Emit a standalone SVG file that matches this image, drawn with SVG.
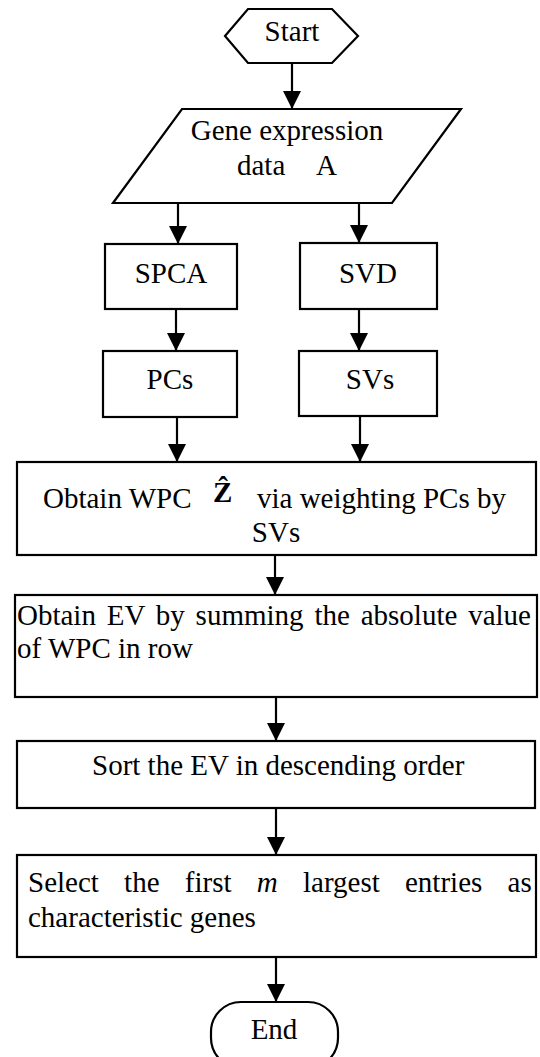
<svg xmlns="http://www.w3.org/2000/svg" width="540" height="1057" viewBox="0 0 540 1057">
<style>
.s{fill:#fff;stroke:#000;stroke-width:2.2}
.t{font-size:29px;fill:#000}
.c{text-anchor:middle}
.e{stroke:#000;stroke-width:2.2;fill:none}
</style>
<defs>
<marker id="ah" markerUnits="userSpaceOnUse" markerWidth="18" markerHeight="18" refX="18" refY="9" orient="auto">
<path d="M0,0 L18,9 L0,18 z" fill="#000"/>
</marker>
</defs>
<rect width="540" height="1057" fill="#fff"/>
<g id="connectors">
<line class="e" x1="292" y1="63" x2="292" y2="109" marker-end="url(#ah)"/>
<line class="e" x1="178" y1="203" x2="178" y2="244" marker-end="url(#ah)"/>
<line class="e" x1="359" y1="203" x2="359" y2="243" marker-end="url(#ah)"/>
<line class="e" x1="176" y1="309" x2="176" y2="351" marker-end="url(#ah)"/>
<line class="e" x1="359" y1="309" x2="359" y2="351" marker-end="url(#ah)"/>
<line class="e" x1="177" y1="417" x2="177" y2="462" marker-end="url(#ah)"/>
<line class="e" x1="360" y1="416" x2="360" y2="462" marker-end="url(#ah)"/>
<line class="e" x1="275" y1="555" x2="275" y2="595" marker-end="url(#ah)"/>
<line class="e" x1="276" y1="697" x2="276" y2="741" marker-end="url(#ah)"/>
<line class="e" x1="276" y1="808" x2="276" y2="855" marker-end="url(#ah)"/>
<line class="e" x1="276" y1="957" x2="276" y2="1002" marker-end="url(#ah)"/>
</g>
<g font-family="Liberation Serif, Tinos, DejaVu Serif, serif">
<g id="start">
<polygon class="s" points="225,36 248,9 332,9 358,36 332,63 248,63"/>
<text class="t c" x="292" y="41">Start</text>
</g>
<g id="data">
<polygon class="s" points="182,109 461,109 392,203 113,203"/>
<text class="t c" x="287" y="140">Gene expression</text>
<text class="t" y="175"><tspan x="237">data</tspan><tspan x="316">A</tspan></text>
</g>
<g id="spca">
<rect class="s" x="105" y="244" width="132" height="65"/>
<text class="t c" x="171" y="283">SPCA</text>
</g>
<g id="svd">
<rect class="s" x="300" y="243" width="137" height="66"/>
<text class="t c" x="368" y="283">SVD</text>
</g>
<g id="pcs">
<rect class="s" x="103" y="351" width="134" height="66"/>
<text class="t c" x="170" y="389">PCs</text>
</g>
<g id="svs">
<rect class="s" x="299" y="351" width="138" height="65"/>
<text class="t c" x="370" y="389">SVs</text>
</g>
<g id="wpc">
<rect class="s" x="17" y="462" width="519" height="93"/>
<text class="t" x="43" y="508">Obtain WPC</text>
<text class="t" x="213" y="502" font-weight="bold" font-size="31">Ẑ</text>
<text class="t" x="257" y="508">via weighting PCs by</text>
<text class="t c" x="276" y="542">SVs</text>
</g>
<g id="ev">
<rect class="s" x="15" y="595" width="522" height="102"/>
<text class="t" x="17" y="625" word-spacing="3.6">Obtain EV by summing the absolute value</text>
<text class="t" x="17" y="658">of WPC in row</text>
</g>
<g id="sort">
<rect class="s" x="17" y="741" width="518" height="67"/>
<text class="t" x="92" y="775">Sort the EV in descending order</text>
</g>
<g id="select">
<rect class="s" x="17" y="855" width="519" height="102"/>
<text class="t" x="28" y="892" word-spacing="18">Select the first <tspan font-style="italic">m</tspan> largest entries as</text>
<text class="t" x="28" y="927">characteristic genes</text>
</g>
<g id="end">
<rect class="s" x="211" y="1002" width="127" height="66" rx="30" ry="30"/>
<text class="t c" x="274" y="1039">End</text>
</g>
</g>
</svg>
